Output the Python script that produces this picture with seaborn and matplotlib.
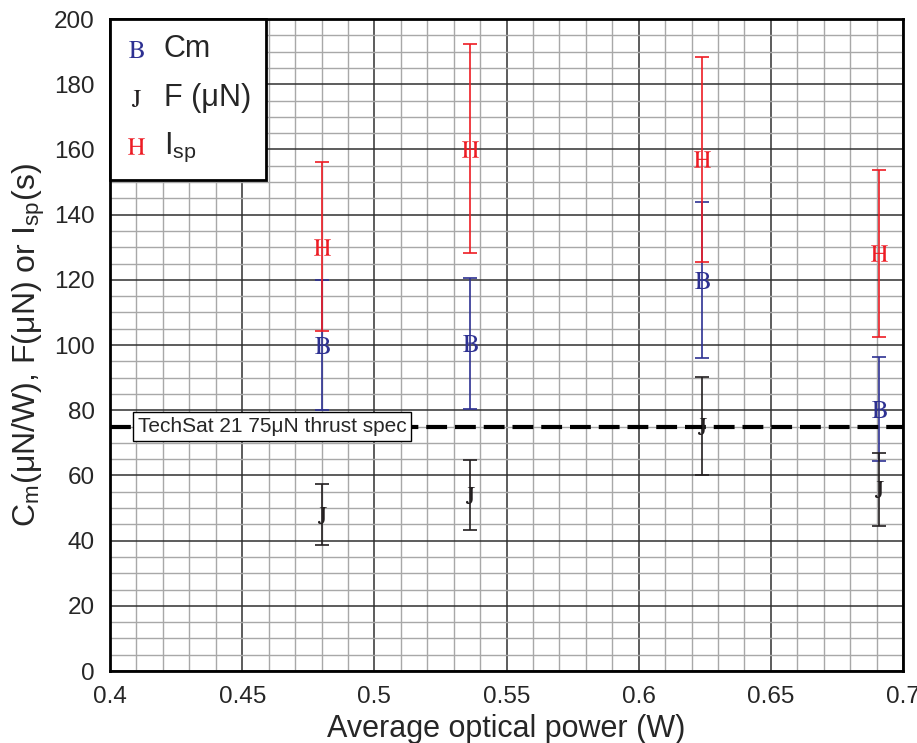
import numpy as np
import pandas as pd
import matplotlib
matplotlib.use("Agg")
import matplotlib.pyplot as plt
import seaborn as sns
from matplotlib.ticker import MultipleLocator, FixedLocator, FixedFormatter

# --- datos ---
potencia = [0.480, 0.536, 0.624, 0.691]

cm = [100.0, 100.5, 120.0, 80.4]
cm_err = [20.0, 20.2, 24.0, 16.0]

fuerza = [48.0, 54.0, 75.2, 55.7]
fuerza_err = [9.5, 10.8, 15.0, 11.2]

isp = [130.2, 160.2, 157.0, 128.1]
isp_err = [26.0, 32.0, 31.5, 25.6]

spec_techsat = 75.0

xticks = [0.4, 0.45, 0.5, 0.55, 0.6, 0.65, 0.7]
xtick_labels = ["0.4", "0.45", "0.5", "0.55", "0.6", "0.65", "0.7"]
yticks = [0, 20, 40, 60, 80, 100, 120, 140, 160, 180, 200]

azul = "#2e3192"
rojo = "#ed1c24"
negro = "#231f20"

sns.set_style("white")
plt.rcParams["font.family"] = ["Liberation Sans", "DejaVu Sans"]
plt.rcParams["mathtext.fontset"] = "stix"

fig = plt.figure(figsize=(9.17, 7.43), dpi=100)
ax = fig.add_axes([0.12, 0.0969, 0.8648, 0.8775])

# grilla
ax.set_axisbelow(True)
ax.xaxis.set_major_locator(FixedLocator(xticks))
ax.xaxis.set_major_formatter(FixedFormatter(xtick_labels))
ax.xaxis.set_minor_locator(MultipleLocator(0.01))
ax.yaxis.set_major_locator(FixedLocator(yticks))
ax.yaxis.set_minor_locator(MultipleLocator(5))
ax.grid(which="minor", color="#a8a8a8", linewidth=1.0)
ax.grid(which="major", color="#303030", linewidth=1.1)

# barras de error
series = [
    (cm, cm_err, azul, r"$\mathrm{B}$", "Cm"),
    (fuerza, fuerza_err, negro, r"$\mathrm{J}$", "F (μN)"),
    (isp, isp_err, rojo, r"$\mathrm{H}$", r"I$_\mathregular{sp}$"),
]
for valores, err, color, marca, nombre in series:
    ax.errorbar(potencia, valores, yerr=err, fmt="none", ecolor=color,
                elinewidth=1.2, capsize=5, capthick=1.2, zorder=3)

for valores, err, color, marca, nombre in series:
    sns.scatterplot(x=potencia, y=valores, marker=marca, color=color, s=150,
                    linewidth=0, label=nombre, ax=ax, zorder=5)

# línea de especificación
ax.axhline(spec_techsat, color="black", linewidth=3, linestyle=(0, (5, 1.9)), zorder=4)
ax.text(0.4105, spec_techsat, "TechSat 21 75μN thrust spec", fontsize=15,
        ha="left", va="center", zorder=6,
        bbox=dict(boxstyle="square,pad=0.22", fc="white", ec="black", lw=1))

ax.set_xlim(0.4, 0.7)
ax.set_ylim(0, 200)

ax.set_xlabel("Average optical power (W)", fontsize=22, labelpad=4)
ax.set_ylabel(r"C$_\mathregular{m}$(μN/W), F(μN) or I$_\mathregular{sp}$(s)", fontsize=23, labelpad=5)

ax.tick_params(axis="both", which="major", direction="out", length=8, width=1.2,
               labelsize=17.5, color="black", pad=3)
ax.tick_params(axis="both", which="minor", direction="out", length=4, width=1.0, color="black")
ax.tick_params(top=False, right=False, which="both")

for lado in ["left", "bottom", "right", "top"]:
    ax.spines[lado].set_visible(True)
    ax.spines[lado].set_color("black")
    ax.spines[lado].set_linewidth(2)

leg = ax.legend(loc="upper left", bbox_to_anchor=(0, 1), borderaxespad=0, fontsize=22,
                frameon=True, fancybox=False, edgecolor="black", framealpha=1,
                handlelength=0.7, handletextpad=0.55, labelspacing=0.6, borderpad=0.5)
leg.get_frame().set_linewidth(2)
leg.set_zorder(10)

plt.savefig("out.png", dpi=100)
